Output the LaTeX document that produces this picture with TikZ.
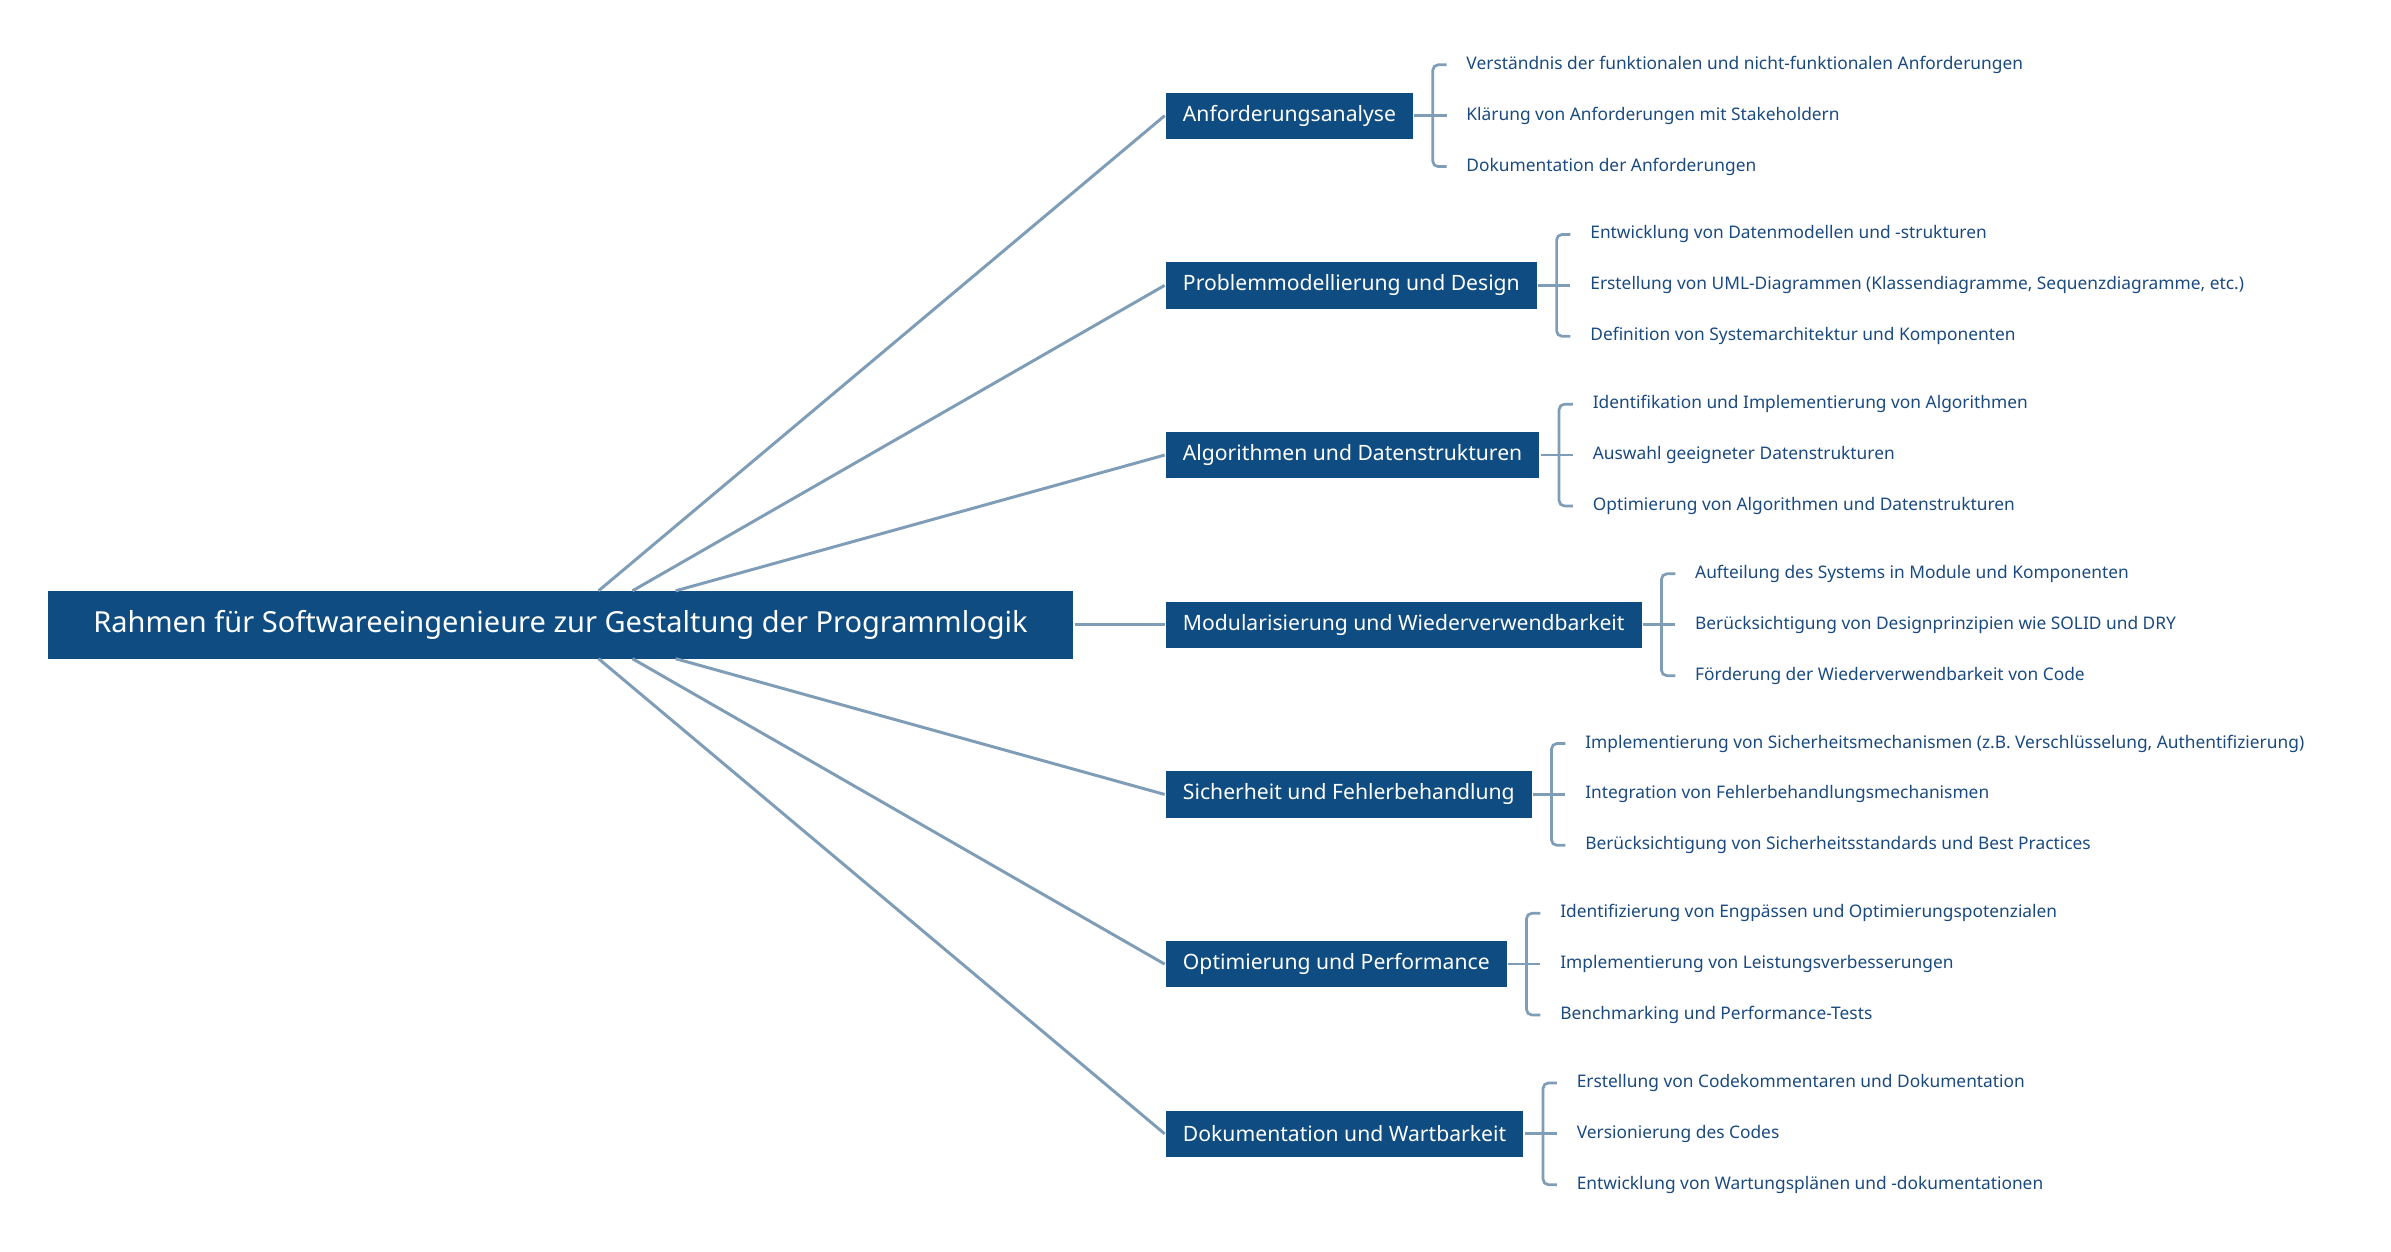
\documentclass[tikz,border=0pt]{standalone}
\usepackage{fontspec}
\setmainfont{Noto Sans}
\usetikzlibrary{positioning,calc}
\definecolor{boxblue}{HTML}{0F4C81}
\definecolor{linegray}{HTML}{7F9DB7}
\definecolor{leaftext}{HTML}{1A4A80}
\tikzset{
every picture/.style={
line width=1pt
}}

\begin{document}
\begin{tikzpicture}[x=0.02cm, y=-0.02cm,
root/.style = {rectangle, fill=boxblue, text=white, font=\fontsize{10.7}{13}\selectfont, minimum height=0.88cm, inner xsep=0.3cm, anchor=west},
branch/.style = {rectangle, fill=boxblue, text=white, font=\fontsize{7.8}{10}\selectfont, minimum height=0.6cm, inner xsep=0.22cm, anchor=west},
leaf/.style = {text=leaftext, font=\fontsize{6.4}{8}\selectfont, anchor=west, inner sep=0pt},
link/.style = {draw=linegray, line width=1.1pt},
brace/.style = {draw=linegray, line width=1pt, rounded corners=2pt}]

\useasboundingbox (0,0) rectangle (1550,811);

\node[root, minimum width=13.3cm] (root) at (30,405) {Rahmen für Softwareeingenieure zur Gestaltung der Programmlogik};

% branches with their leaves
\foreach \i/\y/\name/\la/\lb/\lc in {
1/75/Anforderungsanalyse/Verständnis der funktionalen und nicht-funktionalen Anforderungen/Klärung von Anforderungen mit Stakeholdern/Dokumentation der Anforderungen,
2/185/Problemmodellierung und Design/Entwicklung von Datenmodellen und -strukturen/{Erstellung von UML-Diagrammen (Klassendiagramme, Sequenzdiagramme, etc.)}/Definition von Systemarchitektur und Komponenten,
3/295/Algorithmen und Datenstrukturen/Identifikation und Implementierung von Algorithmen/Auswahl geeigneter Datenstrukturen/Optimierung von Algorithmen und Datenstrukturen,
4/405/Modularisierung und Wiederverwendbarkeit/Aufteilung des Systems in Module und Komponenten/Berücksichtigung von Designprinzipien wie SOLID und DRY/Förderung der Wiederverwendbarkeit von Code,
5/515/Sicherheit und Fehlerbehandlung/{Implementierung von Sicherheitsmechanismen (z.B. Verschlüsselung, Authentifizierung)}/Integration von Fehlerbehandlungsmechanismen/Berücksichtigung von Sicherheitsstandards und Best Practices,
6/625/Optimierung und Performance/Identifizierung von Engpässen und Optimierungspotenzialen/Implementierung von Leistungsverbesserungen/Benchmarking und Performance-Tests,
7/735/Dokumentation und Wartbarkeit/Erstellung von Codekommentaren und Dokumentation/Versionierung des Codes/Entwicklung von Wartungsplänen und -dokumentationen}{
  \node[branch] (b\i) at (755,\y) {\name};
  \coordinate (k\i) at ($(b\i.east)+(12,0)$);
  \node[leaf] (l\i a) at ($(b\i.east)+(33,-33)$) {\la};
  \node[leaf] (l\i b) at ($(b\i.east)+(33,0)$) {\lb};
  \node[leaf] (l\i c) at ($(b\i.east)+(33,33)$) {\lc};
  \draw[brace] (b\i.east) -- (k\i);
  \draw[brace] ($(l\i a.west)+(-12,0)$) -| (k\i) |- ($(l\i c.west)+(-12,0)$);
  \draw[brace] (k\i) -- ($(l\i b.west)+(-12,0)$);
}

% root links
\coordinate (r1) at (388,383);
\coordinate (r2) at (410,383);
\coordinate (r3) at (438,383);
\coordinate (r5) at (438,427);
\coordinate (r6) at (410,427);
\coordinate (r7) at (388,427);
\draw[link] (r1) -- (b1.west);
\draw[link] (r2) -- (b2.west);
\draw[link] (r3) -- (b3.west);
\draw[link] (root.east) -- (b4.west);
\draw[link] (r5) -- (b5.west);
\draw[link] (r6) -- (b6.west);
\draw[link] (r7) -- (b7.west);
\end{tikzpicture}
\end{document}
